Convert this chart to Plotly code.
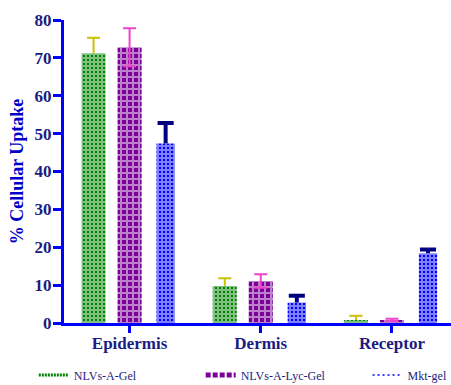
import plotly.graph_objects as go

categories = ["Epidermis", "Dermis", "Receptor"]
series_names = ["NLVs-A-Gel", "NLVs-A-Lyc-Gel", "Mkt-gel"]

nlvs_a_gel = [71.2, 9.8, 0.8]
nlvs_a_gel_err = [4.1, 2.0, 1.1]
nlvs_a_lyc_gel = [72.8, 11.1, 0.8]
nlvs_a_lyc_gel_err = [5.0, 1.8, 0.3]
mkt_gel = [47.4, 5.4, 18.4]
mkt_gel_err = [5.4, 1.8, 1.0]

y_ticks = [0, 10, 20, 30, 40, 50, 60, 70, 80]

GREEN = "#008000"
PURPLE = "#7a0098"
BLUE = "#0000ff"
NAVY_TXT = "#1c1c80"

fig = go.Figure()

fig.add_trace(go.Bar(
    x=categories, y=nlvs_a_gel, name=series_names[0], offsetgroup="a",
    legendgroup="a", showlegend=False,
    marker=dict(color=GREEN, line=dict(width=0),
                pattern=dict(shape="+", fgcolor="white", bgcolor=GREEN, size=4, solidity=0.75)),
))
fig.add_trace(go.Bar(
    x=categories, y=nlvs_a_lyc_gel, name=series_names[1], offsetgroup="b",
    legendgroup="b", showlegend=False,
    marker=dict(color=PURPLE, line=dict(width=0),
                pattern=dict(shape="+", fgcolor="white", bgcolor=PURPLE, size=6, solidity=0.5556)),
    error_y=dict(type="data", array=nlvs_a_lyc_gel_err, symmetric=True,
                 color="#ee44cc", thickness=2, width=6.5),
))
fig.add_trace(go.Bar(
    x=categories, y=mkt_gel, name=series_names[2], offsetgroup="c", width=0.14,
    legendgroup="c", showlegend=False,
    marker=dict(color=BLUE, line=dict(width=0),
                pattern=dict(shape="+", fgcolor="white", bgcolor=BLUE, size=4, solidity=0.75)),
))

# one-sided error bars (stem + cap) drawn as grouped scatter markers
green_tops = [v + e for v, e in zip(nlvs_a_gel, nlvs_a_gel_err)]
purple_tops = list(nlvs_a_lyc_gel)
blue_tops = [v + e for v, e in zip(mkt_gel, mkt_gel_err)]

fig.add_trace(go.Scatter(
    x=categories, y=green_tops, mode="markers", offsetgroup="a", showlegend=False,
    marker=dict(symbol="line-ew", size=9.3, color="#c8c000", line=dict(color="#c8c000", width=2)),
    error_y=dict(type="data", symmetric=False, array=[0, 0, 0], arrayminus=nlvs_a_gel_err,
                 color="#c8c000", thickness=2, width=0),
    hoverinfo="skip",
))
fig.add_trace(go.Scatter(
    x=categories, y=purple_tops, mode="markers", offsetgroup="b", showlegend=False,
    marker=dict(size=1, color="rgba(0,0,0,0)"), hoverinfo="skip",
))
fig.add_trace(go.Scatter(
    x=categories, y=blue_tops, mode="markers", offsetgroup="c", showlegend=False,
    marker=dict(symbol="line-ew", size=11.5, color="#000080", line=dict(color="#000080", width=4)),
    error_y=dict(type="data", symmetric=False, array=[0, 0, 0], arrayminus=mkt_gel_err,
                 color="#000080", thickness=4, width=0),
    hoverinfo="skip",
))

# legend entries (dotted swatches like the reference)
legend_styles = [
    dict(color=GREEN, width=3, dash="2px,1px"),
    dict(color=PURPLE, width=5, dash="5px,2px"),
    dict(color=BLUE, width=1.5, dash="2px,3px"),
]
legend_ids = ["legend", "legend2", "legend3"]
for name, grp, style, lid in zip(series_names, ["a", "b", "c"], legend_styles, legend_ids):
    fig.add_trace(go.Scatter(
        x=[None], y=[None], mode="lines", name=name, legendgroup=grp,
        line=style, showlegend=True, legend=lid, hoverinfo="skip",
    ))

legend_common = dict(
    orientation="h", xref="container", yref="container",
    y=0.026, xanchor="left", yanchor="middle",
    font=dict(family="Liberation Serif", size=12, color=NAVY_TXT),
    bgcolor="rgba(0,0,0,0)", itemwidth=30,
)

fig.update_layout(
    width=451, height=385,
    margin=dict(l=64, r=0, t=20, b=62, autoexpand=False),
    paper_bgcolor="white", plot_bgcolor="white",
    barmode="group", bargap=0.176, bargroupgap=0.333,
    scattermode="group", scattergap=0.176,
    font=dict(family="Liberation Serif", color=NAVY_TXT),
    showlegend=True,
    legend=dict(x=0.075, **legend_common),
    legend2=dict(x=0.445, **legend_common),
    legend3=dict(x=0.815, **legend_common),
)

fig.update_xaxes(
    type="category", range=[-0.5, 2.45], automargin=False,
    showline=True, linecolor=BLUE, linewidth=3,
    ticks="outside", ticklen=7, tickwidth=3, tickcolor=BLUE,
    ticklabelstandoff=-4,
    tickfont=dict(family="Liberation Serif", size=17, color=NAVY_TXT, weight="bold"),
    showgrid=False, zeroline=False,
)
fig.update_yaxes(
    range=[0, 80], tickvals=y_ticks, automargin=False,
    showline=True, linecolor=BLUE, linewidth=3,
    ticks="outside", ticklen=8, tickwidth=3, tickcolor=BLUE,
    ticklabelstandoff=-2,
    tickfont=dict(family="Liberation Serif", size=17, color=NAVY_TXT, weight="bold"),
    showgrid=False, zeroline=False,
    title=dict(text="% Cellular Uptake", standoff=7,
               font=dict(family="Liberation Serif", size=18, color="#0000c8", weight="bold")),
)

fig.write_html(
    "out.html",
    config={"displayModeBar": False},
    post_script="document.body.style.margin='0';document.body.style.padding='0';",
)
